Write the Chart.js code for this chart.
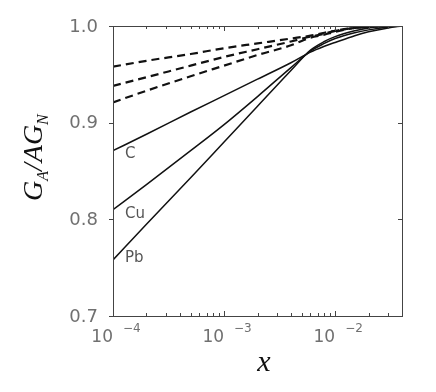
<!DOCTYPE html>
<html>
<head>
<meta charset="utf-8">
<script src="https://cdn.jsdelivr.net/npm/chart.js@4/dist/chart.umd.min.js"></script>
<style>
  html, body { margin: 0; padding: 0; background: #fff; }
  #wrap { width: 436px; height: 392px; }
</style>
</head>
<body>
<div id="wrap"><canvas id="chart"></canvas></div>
<script>
// x values (log axis)
const xValues = [1e-4, 2e-4, 5e-4, 1e-3, 2e-3, 4e-3, 6e-3, 8e-3, 1e-2, 1.5e-2, 2e-2, 3e-2, 4e-2];

// solid curves
const solidC  = [0.871, 0.888, 0.911, 0.928, 0.945, 0.962, 0.973, 0.979, 0.983, 0.990, 0.994, 0.998, 1.000];
const solidCu = [0.810, 0.836, 0.871, 0.898, 0.927, 0.957, 0.974, 0.982, 0.987, 0.993, 0.996, 0.999, 1.000];
const solidPb = [0.758, 0.795, 0.843, 0.880, 0.917, 0.954, 0.975, 0.984, 0.989, 0.995, 0.998, 1.000, 1.000];

// dashed curves
const dashC  = [0.958, 0.964, 0.971, 0.977, 0.982, 0.987, 0.990, 0.993, 0.995, 0.998, 0.999, 1.000, 1.000];
const dashCu = [0.938, 0.947, 0.959, 0.968, 0.976, 0.984, 0.989, 0.992, 0.995, 0.998, 0.999, 1.000, 1.000];
const dashPb = [0.921, 0.933, 0.948, 0.959, 0.970, 0.980, 0.988, 0.991, 0.994, 0.998, 0.999, 1.000, 1.000];

const yTicks = [0.7, 0.8, 0.9, 1.0];
const xMajor = [1e-4, 1e-3, 1e-2];
const xExp = ['-4', '-3', '-2'];
const curveLabels = ['C', 'Cu', 'Pb'];

function pts(ys) {
    return xValues.map((x, i) => ({ x: x, y: ys[i] }));
}

function solid(ys) {
    return { data: pts(ys), borderColor: '#111', borderWidth: 1.5, pointRadius: 0,
             cubicInterpolationMode: 'monotone', fill: false };
}
function dashed(ys) {
    return { data: pts(ys), borderColor: '#111', borderWidth: 2.2, borderDash: [8, 5],
             pointRadius: 0, cubicInterpolationMode: 'monotone', fill: false };
}

const framePlugin = {
    id: 'frame',
    afterDraw(chart) {
        const ctx = chart.ctx;
        const a = chart.chartArea;
        const xs = chart.scales.x, ys = chart.scales.y;
        ctx.save();
        ctx.strokeStyle = '#444';
        ctx.lineWidth = 1;
        ctx.strokeRect(a.left + 0.5, a.top + 0.5, a.right - a.left, a.bottom - a.top);

        // x ticks (inward, top and bottom)
        ctx.beginPath();
        for (let e = -4; e <= -2; e++) {
            for (let m = 1; m <= 9; m++) {
                const v = m * Math.pow(10, e);
                if (v > xs.max) break;
                const px = Math.round(xs.getPixelForValue(v)) + 0.5;
                const len = m === 1 ? 5 : 3;
                ctx.moveTo(px, a.bottom); ctx.lineTo(px, a.bottom - len);
                ctx.moveTo(px, a.top); ctx.lineTo(px, a.top + len);
            }
        }
        // y ticks: outward on left, inward on right
        yTicks.forEach(v => {
            const py = Math.round(ys.getPixelForValue(v)) + 0.5;
            ctx.moveTo(a.left, py); ctx.lineTo(a.left - 4, py);
            ctx.moveTo(a.right, py); ctx.lineTo(a.right - 4, py);
        });
        ctx.stroke();

        // y tick labels
        ctx.fillStyle = '#707070';
        ctx.font = '18px "DejaVu Sans"';
        ctx.textAlign = 'right';
        ctx.textBaseline = 'middle';
        yTicks.forEach(v => {
            ctx.fillText(v.toFixed(1), a.left - 15, ys.getPixelForValue(v) + 1);
        });

        // x tick labels 10^n
        ctx.textBaseline = 'alphabetic';
        xMajor.forEach((v, i) => {
            const px = xs.getPixelForValue(v);
            ctx.font = '17px "DejaVu Sans"';
            ctx.textAlign = 'right';
            ctx.fillText('10', px, a.bottom + 26);
            ctx.font = '12px "DejaVu Sans"';
            ctx.textAlign = 'left';
            ctx.fillText(xExp[i].replace('-', '\u2212'), px + 10, a.bottom + 16);
        });

        // curve labels
        ctx.fillStyle = '#555';
        ctx.font = '15px "DejaVu Sans"';
        ctx.textAlign = 'left';
        const labelY = [158, 218, 262];
        curveLabels.forEach((t, i) => ctx.fillText(t, a.left + 12, labelY[i]));

        // x axis title
        ctx.fillStyle = '#111';
        ctx.font = 'italic 30px "Liberation Serif"';
        ctx.textAlign = 'center';
        ctx.fillText('x', 264, 371);

        // y axis title: G_A / A G_N
        ctx.translate(42, 201);
        ctx.rotate(-Math.PI / 2);
        ctx.textAlign = 'left';
        let cx = 0;
        const parts = [['G', 28, 0], ['A', 16, 6], ['/', 28, 0], ['A', 28, 0], ['G', 28, 0], ['N', 16, 6]];
        parts.forEach(p => {
            ctx.font = 'italic ' + p[1] + 'px "Liberation Serif"';
            ctx.fillText(p[0], cx, p[2]);
            cx += ctx.measureText(p[0]).width + (p[0] === '/' ? 1 : 0);
        });
        ctx.restore();
    }
};

new Chart(document.getElementById('chart'), {
    type: 'line',
    data: {
        datasets: [solid(solidC), solid(solidCu), solid(solidPb),
                   dashed(dashC), dashed(dashCu), dashed(dashPb)]
    },
    options: {
        responsive: true,
        maintainAspectRatio: false,
        animation: false,
        layout: { padding: { left: 113, right: 34, top: 26, bottom: 76 } },
        plugins: { legend: { display: false }, tooltip: { enabled: false } },
        scales: {
            x: { type: 'logarithmic', min: 1e-4, max: 4e-2, display: false },
            y: { type: 'linear', min: 0.7, max: 1.0, display: false }
        }
    },
    plugins: [framePlugin]
});
</script>
</body>
</html>
